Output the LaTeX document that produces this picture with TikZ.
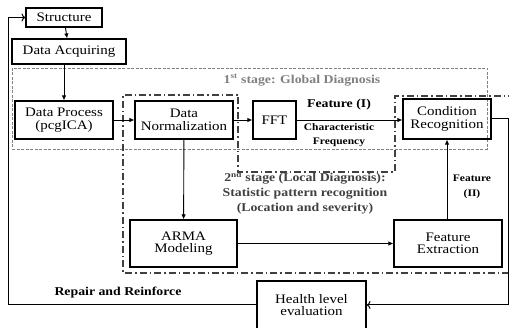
\documentclass[tikz,border=0pt]{standalone}
\usepackage{fontspec}
\setmainfont{Liberation Serif}[FakeStretch=1.15]
\usetikzlibrary{arrows.meta}
\definecolor{stageone}{gray}{0.5}
\definecolor{stagetwo}{gray}{0.25}
\tikzset{
  box/.style={draw,line width=1.1pt,align=center,inner sep=1pt,
    font=\fontsize{13}{12.5}\selectfont},
  lbl/.style={align=center,inner sep=0pt,font=\fontsize{12}{15}\selectfont\bfseries},
  small/.style={align=center,inner sep=0pt,font=\fontsize{10}{14.5}\selectfont\bfseries},
  flow/.style={-{Latex[length=5pt,width=4.5pt]},line width=0.9pt},
  back/.style={-{To[length=4pt,width=8pt,line width=1pt]},line width=1pt},
  firstframe/.style={draw=stageone,line width=0.7pt,dash pattern=on 3pt off 1.5pt},
  secondframe/.style={draw=stagetwo,line width=1.5pt,dash pattern=on 7pt off 3pt on 1.5pt off 3pt}
}
\begin{document}
\begin{tikzpicture}[x=1pt,y=-1pt]
  \useasboundingbox (0,0) rectangle (509,328);
  \clip (0,0) rectangle (509,328);
  \draw[firstframe] (12,68) rectangle (487,149);
  \draw[secondframe] (515,96) -- (395,96) -- (395,172) -- (238,172)
    -- (238,95) -- (123,95) -- (123,273) -- (515,273);
  \path
    (64,17.5) node[box,minimum width=76pt,minimum height=19pt] (st){Structure}
    (69,51.5) node[box,minimum width=114pt,minimum height=25pt] (da){Data Acquiring}
    (64,120) node[box,minimum width=98pt,minimum height=38pt] (dp){Data Process\\(pcgICA)}
    (184,120) node[box,minimum width=98pt,minimum height=38pt] (dn){Data\\Normalization}
    (274.5,120) node[box,minimum width=43pt,minimum height=38pt] (fft){FFT}
    (447,119) node[box,minimum width=88pt,minimum height=40pt] (cr){Condition\\Recognition}
    (183.5,243.5) node[box,minimum width=107pt,minimum height=47pt] (arma){ARMA\\Modeling}
    (448,243.5) node[box,minimum width=108pt,minimum height=47pt] (fe){Feature\\Extraction}
    (311.5,305) node[box,minimum width=109pt,minimum height=48pt] (hl){Health level\\evaluation};
  \path
    (302,80) node[lbl,text=stageone] (s1){1\textsuperscript{st} stage: Global Diagnosis}
    (339,105) node[lbl] (f1){Feature (I)}
    (339,135) node[small] (cf){Characteristic\\Frequency}
    (305,193) node[lbl,text=stagetwo] (s2){2\textsuperscript{nd} stage (Local Diagnosis):\\Statistic pattern recognition\\(Location and severity)}
    (472,187) node[small] (f2){Feature\\(II)}
    (118,293) node[lbl] (rr){Repair and Reinforce};
  \coordinate (lft) at (8,0);
  \coordinate (rgt) at (508,0);
  \begin{scope}[flow]
    \draw (st) to (da);
    \draw (da.south -| dp) to (dp);
    \draw (dp) to (dn);
    \draw (dn) to (fft);
    \draw (fft.east) to (fft.east -| cr.west);
    \draw (dn) to (arma);
    \draw (arma) to (fe);
    \draw (fe.north -| cr) to (cr);
  \end{scope}
  \begin{scope}[back]
    \draw (cr.east) -- (cr.east -| rgt) |- (hl.east);
    \draw (hl.west) -| (lft |- st.west) -- (st.west);
  \end{scope}
\end{tikzpicture}
\end{document}
